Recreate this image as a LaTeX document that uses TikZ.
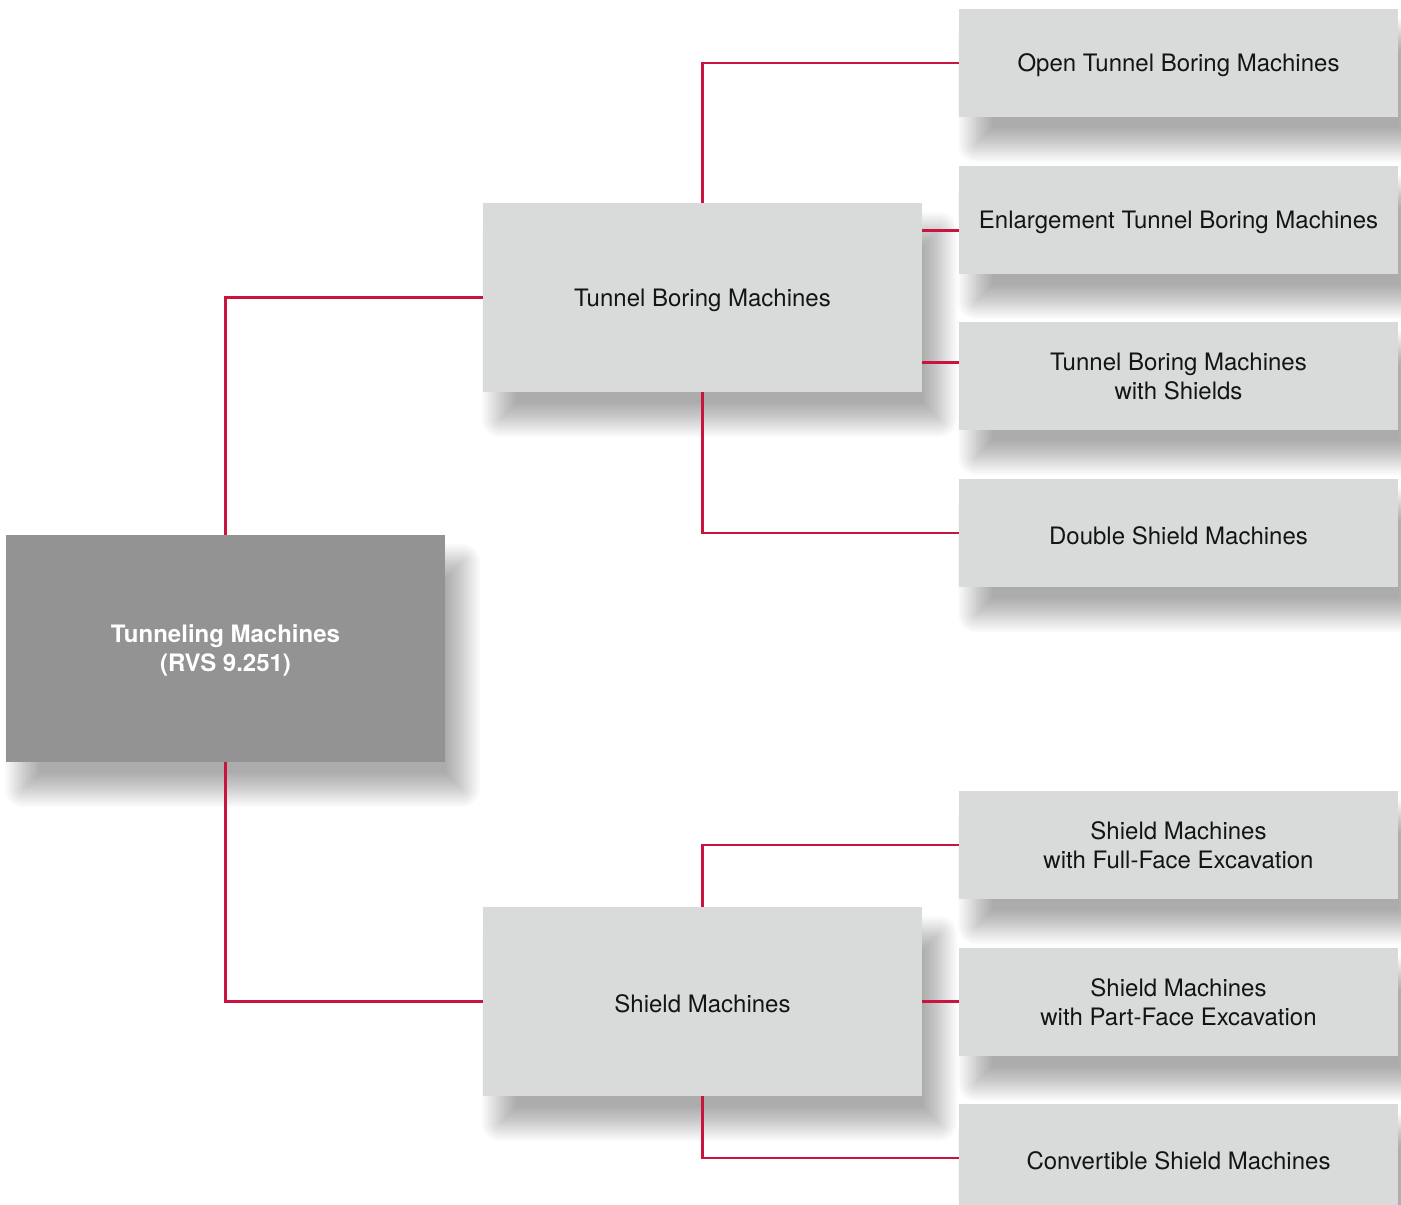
\documentclass[tikz,border=0pt]{standalone}
\usepackage{fontspec}
\setmainfont{TeX Gyre Heros}
\usetikzlibrary{backgrounds}
\definecolor{leafgray}{RGB}{217,219,219}
\definecolor{rootgray}{RGB}{147,147,147}
\definecolor{linkred}{RGB}{200,20,62}
\definecolor{txt}{RGB}{20,20,20}
\tikzset{
  base/.style={rectangle, anchor=north west, inner sep=0pt, outer sep=0pt},
  leaf/.style={base, fill=leafgray, minimum width=439pt, minimum height=108pt},
  mid/.style={base, fill=leafgray, minimum width=439pt, minimum height=189pt},
  rootbox/.style={base, fill=rootgray, minimum width=439pt, minimum height=227pt},
  lbl/.style={align=center, text=txt, yshift=-2.5pt, inner sep=0pt, font=\fontsize{24}{29}\selectfont},
  lbltwo/.style={lbl, yshift=2.5pt},
  rootlbl/.style={lbl, text=white, yshift=0.5pt, font=\fontsize{24}{29}\selectfont\bfseries},
  conn/.style={draw=linkred, line width=2.2pt}
}
\newcommand\softshadow[1]{%
  \foreach \i in {0,...,17}{%
    \pgfmathsetmacro\e{18-2*\i}%
    \pgfmathsetmacro\rc{max(\e,0.01)}%
    \fill[black, opacity=0.02, rounded corners=\rc pt]
      ([xshift={(17-\e)*1pt}, yshift={(-27+\e)*1pt}]#1.north west) rectangle
      ([xshift={(17+\e)*1pt}, yshift={(-27-\e)*1pt}]#1.south east);
  }}
\begin{document}
\begin{tikzpicture}[x=1pt, y=-1pt]
\useasboundingbox (0,0) rectangle (1401,1205);
\clip (0,0) rectangle (1401,1205);
\node[rootbox, label={[rootlbl, name=rootl]center:Tunneling Machines\\(RVS 9.251)}] (root) at (6,535) {};
\node[mid, label={[lbl, name=tbml]center:Tunnel Boring Machines}] (tbm) at (483,203) {};
\node[mid, label={[lbl, name=sml]center:Shield Machines}] (sm) at (483,907) {};
\node[leaf, label={[lbl, name=openl]center:Open Tunnel Boring Machines}] (open) at (959,9) {};
\node[leaf, label={[lbl, name=enll]center:Enlargement Tunnel Boring Machines}] (enl) at (959,166) {};
\node[leaf, label={[lbltwo, name=tbsl]center:Tunnel Boring Machines\\with Shields}] (tbs) at (959,322) {};
\node[leaf, label={[lbl, name=dsml]center:Double Shield Machines}] (dsm) at (959,479) {};
\node[leaf, label={[lbltwo, name=ffel]center:Shield Machines\\with Full-Face Excavation}] (ffe) at (959,791) {};
\node[leaf, label={[lbltwo, name=pfel]center:Shield Machines\\with Part-Face Excavation}] (pfe) at (959,948) {};
\node[leaf, label={[lbl, name=csml]center:Convertible Shield Machines}] (csm) at (959,1104) {};
\begin{scope}[on background layer]
  \fill[white] (0,0) rectangle (1401,1205);
  \foreach \n in {root,tbm,sm,open,enl,tbs,dsm,ffe,pfe,csm}{\softshadow{\n}}
\end{scope}
\draw[conn] (root.north) |- (tbm.west);
\draw[conn] (root.south) |- (sm.west);
\draw[conn] (tbm.north) |- (open.west);
\draw[conn] ([yshift=67pt]tbm.east) coordinate (e1) -- (e1 -| enl.west);
\draw[conn] ([yshift=-65pt]tbm.east) coordinate (e2) -- (e2 -| tbs.west);
\draw[conn] (tbm.south) |- (dsm.west);
\draw[conn] (sm.north) |- (ffe.west);
\draw[conn] (sm.east) -- (sm.east -| pfe.west);
\draw[conn] (sm.south) |- (csm.west);
\end{tikzpicture}
\end{document}
